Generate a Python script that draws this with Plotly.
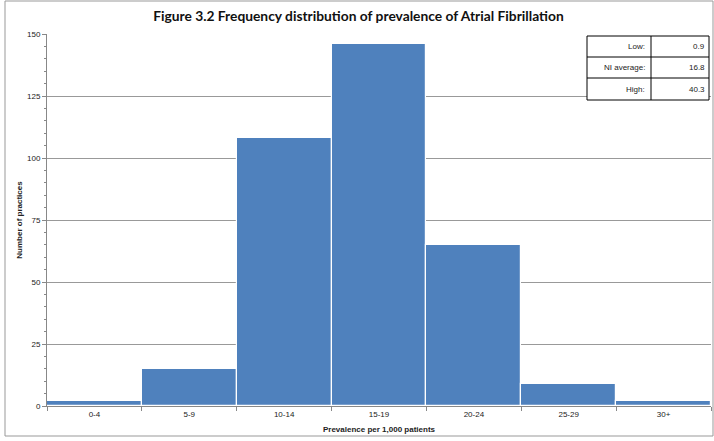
import plotly.graph_objects as go

categories = ["0-4", "5-9", "10-14", "15-19", "20-24", "25-29", "30+"]
practices = [2, 15, 108, 146, 65, 9, 2]
table_labels = ["Low:", "NI average:", "High:"]
table_values = ["0.9", "16.8", "40.3"]

W, H = 714, 441
L, R, T, B = 47, 3, 34, 35

fig = go.Figure()
fig.add_trace(go.Bar(x=categories, y=practices, marker=dict(color="#4F81BD", line=dict(color="white", width=1.2)),
                     hoverinfo="x+y"))

fig.update_layout(
    width=W, height=H,
    margin=dict(l=L, r=R, t=T, b=B, pad=0),
    paper_bgcolor="white", plot_bgcolor="white",
    bargap=0, showlegend=False,
    font=dict(family="Liberation Sans, Arial", size=8, color="#222"),
    title=dict(text="<b>Figure 3.2 Frequency distribution of prevalence of Atrial Fibrillation</b>",
               x=0.502, xanchor="center", y=1 - 16 / H, yanchor="middle",
               font=dict(family="Lato, Calibri", size=13.8, color="#111")),
)
fig.update_xaxes(
    type="category", tickson="boundaries", ticks="outside", ticklen=4, tickcolor="#888",
    showline=True, linecolor="#888", linewidth=1, showgrid=False,
    tickfont=dict(family="Liberation Sans", size=8, color="#222"),
    title=dict(text="<b>Prevalence per 1,000 patients</b>", standoff=8,
               font=dict(family="Liberation Sans", size=8, color="#222")),
)
fig.update_yaxes(
    range=[0, 150], dtick=25, tick0=0, ticks="outside", ticklen=4, tickcolor="#888",
    showline=True, linecolor="#888", linewidth=1,
    showgrid=True, gridcolor="#999", gridwidth=1, zeroline=False,
    minor=dict(dtick=5, ticks="outside", ticklen=2, tickcolor="#888", showgrid=False),
    tickfont=dict(family="Liberation Sans", size=8, color="#222"),
    title=dict(text="<b>Number of practices</b>", standoff=3,
               font=dict(family="Liberation Sans", size=8, color="#222")),
)

# Outer frame of the chart
fig.add_shape(type="rect", xref="paper", yref="paper",
              x0=(5 - L) / (W - L - R), x1=(713 - L) / (W - L - R),
              y0=-(436 - (H - B)) / (H - T - B), y1=(H - B - 1) / (H - T - B),
              line=dict(color="#999", width=1), layer="below")

# Statistics table (paper coords converted from pixels)
pw, ph = W - L - R, H - T - B
def px(x):
    return (x - L) / pw
def py(y):
    return (H - B - y) / ph

tx0, tmid, tx1 = 587, 651, 709
ty = [36, 57, 78, 100]
fig.add_shape(type="rect", xref="paper", yref="paper", x0=px(tx0), x1=px(tx1), y0=py(ty[3]), y1=py(ty[0]),
              line=dict(color="black", width=1), fillcolor="white", layer="above")
fig.add_shape(type="line", xref="paper", yref="paper", x0=px(tmid), x1=px(tmid), y0=py(ty[3]), y1=py(ty[0]),
              line=dict(color="black", width=1))
for yy in ty[1:3]:
    fig.add_shape(type="line", xref="paper", yref="paper", x0=px(tx0), x1=px(tx1), y0=py(yy), y1=py(yy),
                  line=dict(color="black", width=1))
for i, (lab, val) in enumerate(zip(table_labels, table_values)):
    yc = (ty[i] + ty[i + 1]) / 2
    fig.add_annotation(xref="paper", yref="paper", x=px(tmid - 4), y=py(yc), text=lab, showarrow=False,
                       xanchor="right", yanchor="middle", font=dict(family="Liberation Sans", size=8, color="#222"))
    fig.add_annotation(xref="paper", yref="paper", x=px(tx1 - 2), y=py(yc), text=val, showarrow=False,
                       xanchor="right", yanchor="middle", font=dict(family="Liberation Sans", size=8, color="#222"))

fig.write_html("out.html")
